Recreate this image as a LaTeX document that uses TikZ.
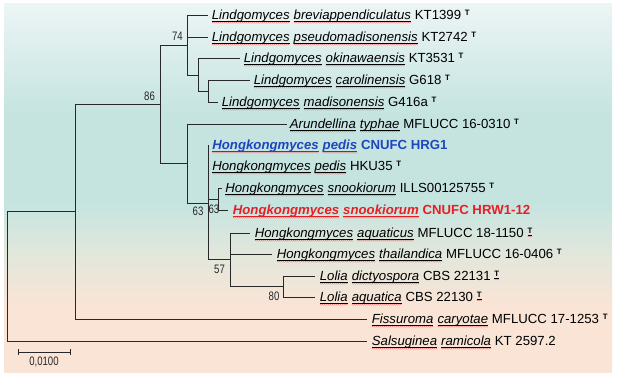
\documentclass[tikz,border=0pt]{standalone}
\usepackage{fontspec}
\setmainfont{Liberation Sans}
\newfontfamily\narrowf[FakeStretch=0.78]{Liberation Sans}
\usetikzlibrary{decorations.pathmorphing}
\definecolor{bgtop}{RGB}{236,245,245}
\definecolor{bgteal}{RGB}{197,228,224}
\definecolor{bgmid}{RGB}{226,231,220}
\definecolor{bgpeach}{RGB}{249,228,214}
\definecolor{hblue}{RGB}{30,70,190}
\definecolor{hred}{RGB}{232,30,36}
\definecolor{treec}{RGB}{40,40,40}
\definecolor{wavec}{RGB}{240,120,120}
\pgfdeclareverticalshading{bgshade}{100bp}{color(0bp)=(bgpeach); color(25bp)=(bgpeach); color(34bp)=(bgpeach); color(41bp)=(bgmid); color(48bp)=(bgteal); color(60bp)=(bgteal); color(75bp)=(bgtop); color(100bp)=(bgtop)}
\newcommand\spw[1]{\tikz[baseline=(w.base)]{\node[inner sep=0pt,outer sep=0pt,anchor=base](w){#1};\draw[line width=0.35pt]([yshift=-1.4pt]w.base west)--([yshift=-1.4pt]w.base east);\draw[wavec,line width=0.35pt,decorate,decoration={snake,amplitude=0.4pt,segment length=2pt}]([yshift=-3pt]w.base west)--([yshift=-3pt]w.base east);}}
\newcommand\typ{\raisebox{4.3pt}{\fontsize{7.8}{9}\selectfont\bfseries T}}
\newcommand\typw{\raisebox{4.3pt}{\spw{\fontsize{7.8}{9}\selectfont\bfseries T}}}
\newcommand\ii[1]{\spw{\itshape #1}}
\begin{document}
\begin{tikzpicture}[x=1pt,y=-1pt,
  tree/.style={draw=treec,line width=0.85pt},
  leaf/.style={anchor=base west,inner sep=0pt,font=\fontsize{13.2}{15}\selectfont},
  boot/.style={inner sep=0pt,font=\narrowf\fontsize{12.3}{14}\selectfont,text=treec}]
\useasboundingbox (0,0) rectangle (619,375);
\fill[white] (0,0) rectangle (619,375);
\shade[shading=bgshade] (4,3) rectangle (612,372);
% internal nodes
\coordinate (R) at (7,276);
\coordinate (N1) at (75,211);
\coordinate (N86) at (160,104);
\coordinate (N74) at (187,45);
\coordinate (Nok) at (198,75);
\coordinate (Ncar) at (208,91);
\coordinate (NH) at (187,163);
\coordinate (NH2) at (208,203);
\coordinate (Nsn) at (218,199);
\coordinate (Naq) at (230,259);
\coordinate (Nlol) at (283,286);
% leaf tips
\coordinate (L1) at (208,15);
\coordinate (L2) at (208,37);
\coordinate (L3) at (240,58);
\coordinate (L4) at (250,80);
\coordinate (L5) at (218,102);
\coordinate (L6) at (287,124);
\coordinate (L7) at (208.5,145);
\coordinate (L8) at (208.5,166);
\coordinate (L9) at (222,188);
\coordinate (L10) at (228,210);
\coordinate (L11) at (250,233);
\coordinate (L12) at (272,254);
\coordinate (L13) at (315,276);
\coordinate (L14) at (315,297);
\coordinate (L15) at (367,319);
\coordinate (L16) at (367,341);
% branches
\draw[tree] (R) |- (N1);
\draw[tree] (R) |- (L16);
\draw[tree] (N1) |- (N86);
\draw[tree] (N1) |- (L15);
\draw[tree] (N86) |- (N74);
\draw[tree] (N86) |- (NH);
\draw[tree] (N74) |- (L1);
\draw[tree] (N74) |- (L2);
\draw[tree] (N74) |- (Nok);
\draw[tree] (Nok) |- (L3);
\draw[tree] (Nok) |- (Ncar);
\draw[tree] (Ncar) |- (L4);
\draw[tree] (Ncar) |- (L5);
\draw[tree] (NH) |- (L6);
\draw[tree] (NH) |- (NH2);
\draw[tree] (NH2) |- (L7);
\draw[tree] (NH2) |- (L8);
\draw[tree] (NH2) |- (Nsn);
\draw[tree] (NH2) |- (Naq);
\draw[tree] (Nsn) |- (L9);
\draw[tree] (Nsn) |- (L10);
\draw[tree] (Naq) |- (L11);
\draw[tree] (Naq) |- (L12);
\draw[tree] (Naq) |- (Nlol);
\draw[tree] (Nlol) |- (L13);
\draw[tree] (Nlol) |- (L14);
% leaf labels
\node[leaf] (t1) at ([shift={(3.5,4.8)}]L1) {\ii{Lindgomyces} \ii{breviappendiculatus} KT1399 \typ};
\node[leaf] (t2) at ([shift={(3.5,4.8)}]L2) {\ii{Lindgomyces} \ii{pseudomadisonensis} KT2742 \typ};
\node[leaf] (t3) at ([shift={(3.5,4.8)}]L3) {\ii{Lindgomyces} \ii{okinawaensis} KT3531 \typ};
\node[leaf] (t4) at ([shift={(3.5,4.8)}]L4) {\ii{Lindgomyces} \ii{carolinensis} G618 \typ};
\node[leaf] (t5) at ([shift={(3.5,4.8)}]L5) {\ii{Lindgomyces} \ii{madisonensis} G416a \typ};
\node[leaf] (t6) at ([shift={(2.5,4.8)}]L6) {\ii{Arundellina} \ii{typhae} MFLUCC 16-0310 \typ};
\node[leaf,text=hblue,font=\fontsize{13.2}{15}\selectfont\bfseries] (t7) at ([shift={(3.5,4.8)}]L7) {\ii{Hongkongmyces} \ii{pedis} CNUFC HRG1};
\node[leaf] (t8) at ([shift={(3.5,4.8)}]L8) {\ii{Hongkongmyces} \ii{pedis} HKU35 \typ};
\node[leaf] (t9) at ([shift={(3,4.8)}]L9) {\ii{Hongkongmyces} \ii{snookiorum} ILLS00125755 \typ};
\node[leaf,text=hred,font=\fontsize{13.2}{15}\selectfont\bfseries] (t10) at ([shift={(4.5,4.8)}]L10) {\ii{Hongkongmyces} \ii{snookiorum} CNUFC HRW1-12};
\node[leaf] (t11) at ([shift={(4.5,4.8)}]L11) {\ii{Hongkongmyces} \ii{aquaticus} MFLUCC 18-1150 \typw};
\node[leaf] (t12) at ([shift={(4.5,4.8)}]L12) {\ii{Hongkongmyces} \ii{thailandica} MFLUCC 16-0406 \typ};
\node[leaf] (t13) at ([shift={(4.5,4.8)}]L13) {\ii{Lolia} \ii{dictyospora} CBS 22131 \typw};
\node[leaf] (t14) at ([shift={(4.5,4.8)}]L14) {\ii{Lolia} \ii{aquatica} CBS 22130 \typw};
\node[leaf] (t15) at ([shift={(4.5,4.8)}]L15) {\ii{Fissuroma} \ii{caryotae} MFLUCC 17-1253 \typ};
\node[leaf] (t16) at ([shift={(4.5,4.8)}]L16) {\ii{Salsuginea} \ii{ramicola} KT 2597.2};
% bootstrap values
\node[boot] (b74) at (177.5,36) {74};
\node[boot] (b86) at (149.5,96) {86};
\node[boot] (b63a) at (198,211.5) {63};
\node[boot] (b63b) at (214,209.5) {63};
\node[boot] (b57) at (219.5,269) {57};
\node[boot] (b80) at (274,296.5) {80};
% scale bar
\coordinate (sb1) at (18,352);
\coordinate (sb2) at (70,352);
\draw[draw=treec,line width=0.8pt] (sb1) -- (sb2);
\draw[draw=treec,line width=0.8pt] ([yshift=3pt]sb1) -- ([yshift=-3pt]sb1);
\draw[draw=treec,line width=0.8pt] ([yshift=3pt]sb2) -- ([yshift=-3pt]sb2);
\node[boot] (sbl) at (44,362) {0,0100};
\end{tikzpicture}
\end{document}
